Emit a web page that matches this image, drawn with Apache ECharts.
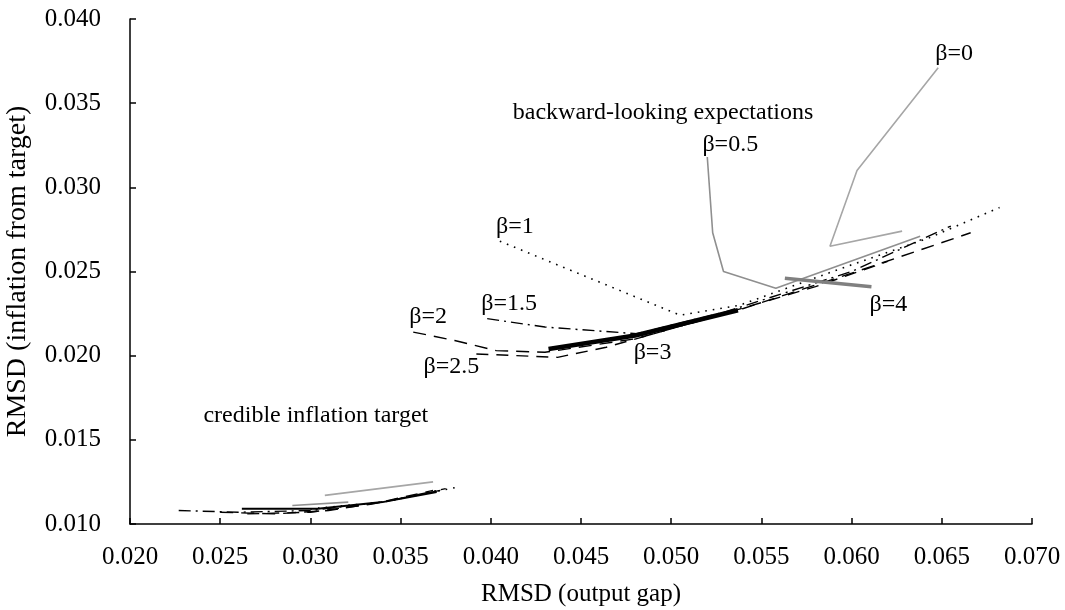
<!DOCTYPE html>
<html>
<head>
<meta charset="utf-8">
<script src="https://cdn.jsdelivr.net/npm/echarts@6/dist/echarts.min.js"></script>
<style>
html,body{margin:0;padding:0;background:#fff;}
#chart{width:1065px;height:610px;}
</style>
</head>
<body>
<div id="chart"></div>
<script>
// ---- data (RMSD output gap, RMSD inflation) ----
// backward-looking expectations
const bwBeta0  = [[0.0648,0.0371],[0.0603,0.0310],[0.0588,0.0265],[0.0628,0.0274]];
const bwBeta05 = [[0.0520,0.0318],[0.0523,0.0273],[0.0529,0.0250],[0.0558,0.0240],[0.0638,0.0271]];
const bwBeta1  = [[0.0405,0.0268],[0.0505,0.0224],[0.0538,0.0230],[0.0600,0.0254],[0.0643,0.0270],[0.0682,0.0288]];
const bwBeta15 = [[0.0398,0.0222],[0.0430,0.0217],[0.0481,0.0213],[0.0530,0.0226],[0.0600,0.0250],[0.0655,0.0277]];
const bwBeta2  = [[0.0357,0.0214],[0.0380,0.0209],[0.0403,0.0203],[0.0430,0.0202],[0.0480,0.0210],[0.0540,0.0228],[0.0600,0.0249],[0.0666,0.0273]];
const bwBeta25 = [[0.0392,0.0201],[0.0437,0.0199],[0.0464,0.0205],[0.0520,0.0222],[0.0580,0.0241],[0.0620,0.0256]];
const bwBeta3  = [[0.0432,0.0204],[0.0480,0.0212],[0.0537,0.0227]];
const bwBeta4  = [[0.0563,0.0246],[0.0611,0.0241]];
// credible inflation target
const crBeta0  = [[0.0308,0.0117],[0.0368,0.0125]];
const crBeta05 = [[0.0290,0.0111],[0.0321,0.0113]];
const crBeta1  = [[0.0300,0.0109],[0.0340,0.0113],[0.0382,0.0122]];
const crBeta15 = [[0.0227,0.0108],[0.0260,0.0107],[0.0300,0.0108],[0.0340,0.0113],[0.0375,0.0121]];
const crBeta2  = [[0.0250,0.0107],[0.0280,0.0106],[0.0310,0.0108],[0.0345,0.0114],[0.0372,0.0120]];
const crBeta25 = [[0.0265,0.0106],[0.0300,0.0107],[0.0335,0.0112],[0.0368,0.0120]];
const crBeta3  = [[0.0262,0.0109],[0.0304,0.0109],[0.0340,0.0113],[0.0370,0.0119]];
// text
const betaLabels = ['β=0','β=0.5','β=1','β=1.5','β=2','β=2.5','β=3','β=4'];
const regimeLabels = ['backward-looking expectations','credible inflation target'];
const regimeAnchors = [[0.04955,0.03442],[0.0303,0.01642]];
const xName = 'RMSD (output gap)';
const yName = 'RMSD (inflation from target)';

const FONT = '"Liberation Serif", "Times New Roman", serif';

const styles = {
  b0:  {color:'#a6a6a6', width:1.6, type:'solid'},
  b05: {color:'#8f8f8f', width:1.6, type:'solid'},
  b1:  {color:'#000', width:1.6, type:[1.6,6]},
  b15: {color:'#000', width:1.4, type:[12,5,2,5]},
  b2:  {color:'#000', width:1.4, type:[13,8]},
  b25: {color:'#000', width:1.4, type:[12,8]},
  b3:  {color:'#000', width:4.5, type:'solid'},
  b3c: {color:'#000', width:2, type:'solid'},
  b4:  {color:'#808080', width:3.5, type:'solid'}
};

function line(name, data, st){
  return {
    type:'line', name, data, showSymbol:false, symbol:'none',
    lineStyle:{color:st.color, width:st.width, type:st.type, cap:'butt'},
    silent:true, z: st.width>3 ? 3 : 2
  };
}

const labelData = [
  {name:betaLabels[0], value:bwBeta0[0], off:[16,-14]},
  {name:betaLabels[1], value:bwBeta05[0], off:[23,-12]},
  {name:betaLabels[2], value:bwBeta1[0], off:[15,-14]},
  {name:betaLabels[3], value:bwBeta15[0], off:[22,-15]},
  {name:betaLabels[4], value:bwBeta2[0], off:[15,-15]},
  {name:betaLabels[5], value:bwBeta25[0], off:[-25,13]},
  {name:betaLabels[6], value:bwBeta3[0], off:[104,4]},
  {name:betaLabels[7], value:bwBeta4[bwBeta4.length-1], off:[17,18]},
  {name:regimeLabels[0], value:regimeAnchors[0], off:[0,0]},
  {name:regimeLabels[1], value:regimeAnchors[1], off:[0,0]}
].map(d => ({
  name:d.name, value:d.value,
  label:{show:true, position:'inside', offset:d.off, formatter:'{b}',
         color:'#000', opacity:1, textBorderWidth:0, fontFamily:FONT, fontSize:24,
         align:'center', verticalAlign:'middle'}
}));

const option = {
  animation:false,
  backgroundColor:'#fff',
  grid:{left:130, right:33, top:19, bottom:86, containLabel:false, outerBoundsMode:'none'},
  xAxis:{
    type:'value', min:0.02, max:0.07, interval:0.005,
    name:xName, nameLocation:'middle', nameGap:58,
    nameTextStyle:{color:'#000', fontFamily:FONT, fontSize:25},
    axisLine:{show:true, onZero:false, lineStyle:{color:'#000', width:1.5}},
    axisTick:{show:true, inside:true, length:6, lineStyle:{color:'#000', width:1.5}},
    axisLabel:{color:'#000', fontFamily:FONT, fontSize:25, margin:21, formatter:v=>v.toFixed(3)},
    splitLine:{show:false}
  },
  yAxis:{
    type:'value', min:0.01, max:0.04, interval:0.005,
    name:yName, nameLocation:'middle', nameGap:98, nameRotate:90,
    nameTextStyle:{color:'#000', fontFamily:FONT, fontSize:28},
    axisLine:{show:true, onZero:false, lineStyle:{color:'#000', width:1.5}},
    axisTick:{show:true, inside:true, length:6, lineStyle:{color:'#000', width:1.5}},
    axisLabel:{color:'#000', fontFamily:FONT, fontSize:25, margin:29, formatter:v=>v.toFixed(3)},
    splitLine:{show:false}
  },
  series:[
    line('bw β=0', bwBeta0, styles.b0),
    line('bw β=0.5', bwBeta05, styles.b05),
    line('bw β=1', bwBeta1, styles.b1),
    line('bw β=1.5', bwBeta15, styles.b15),
    line('bw β=2', bwBeta2, styles.b2),
    line('bw β=2.5', bwBeta25, styles.b25),
    line('bw β=3', bwBeta3, styles.b3),
    line('bw β=4', bwBeta4, styles.b4),
    line('cr β=0', crBeta0, styles.b0),
    line('cr β=0.5', crBeta05, styles.b05),
    line('cr β=1', crBeta1, styles.b1),
    line('cr β=1.5', crBeta15, styles.b15),
    line('cr β=2', crBeta2, styles.b2),
    line('cr β=2.5', crBeta25, styles.b25),
    line('cr β=3', crBeta3, styles.b3c),
    {
      type:'scatter', name:'labels', data:labelData, symbolSize:0,
      itemStyle:{color:'#000', opacity:1}, silent:true, z:5
    }
  ]
};

const chart = echarts.init(document.getElementById('chart'), null, {renderer:'canvas'});
chart.setOption(option);
</script>
</body>
</html>
